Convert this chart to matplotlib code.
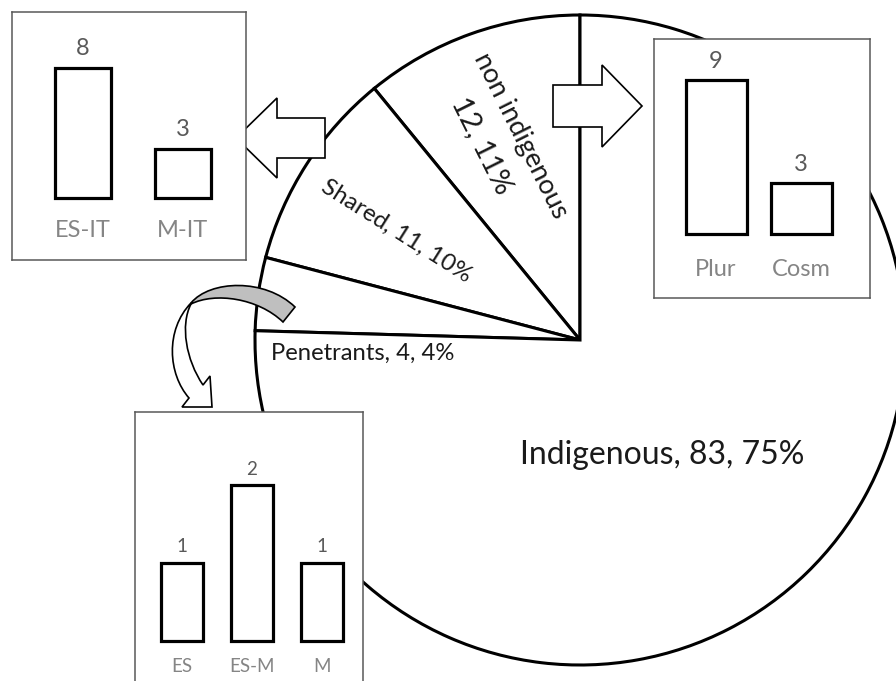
import matplotlib
matplotlib.use('Agg')
import matplotlib.pyplot as plt
from matplotlib.patches import Polygon, PathPatch
from matplotlib.path import Path

plt.rcParams['font.family'] = ['Lato', 'DejaVu Sans']

W, H = 896, 681

# main pie: species groups
groups = ['non indigenous', 'Shared', 'Penetrants', 'Indigenous']
counts = [12, 11, 4, 83]
shares = [11, 10, 4, 75]

# breakdown of the small groups
nonind_cats = ['Plur', 'Cosm']
nonind_vals = [9, 3]
shared_cats = ['ES-IT', 'M-IT']
shared_vals = [8, 3]
pen_cats = ['ES', 'ES-M', 'M']
pen_vals = [1, 2, 1]

fig = plt.figure(figsize=(W / 100, H / 100), dpi=100)
ax = fig.add_axes([0, 0, 1, 1])

# y axis is flipped (pixel-like coords), so start at -90 and go clockwise in data space
ax.pie(counts, startangle=-90, counterclock=False, radius=325, center=(580, 340),
       frame=True, wedgeprops=dict(facecolor='white', edgecolor='black', linewidth=2.2))
ax.set_xlim(0, W)
ax.set_ylim(H, 0)
ax.set_aspect('equal')
ax.axis('off')

txt = '#1a1a1a'
ax.text(521, 136, groups[0], rotation=-63.5, rotation_mode='anchor',
        ha='center', va='center', fontsize=19.5, color=txt)
ax.text(482, 146, f'{counts[0]}, {shares[0]}%', rotation=-63.5, rotation_mode='anchor',
        ha='center', va='center', fontsize=21, color=txt)
ax.text(396, 231, f'{groups[1]}, {counts[1]}, {shares[1]}%', rotation=-32.3,
        rotation_mode='anchor', ha='center', va='center', fontsize=17.5, color=txt)
ax.text(363, 353, f'{groups[2]}, {counts[2]}, {shares[2]}%',
        ha='center', va='center', fontsize=17.2, color=txt)
ax.text(662, 455, f'{groups[3]}, {counts[3]}, {shares[3]}%',
        ha='center', va='center', fontsize=23, color=txt)

# block arrows
left_arrow = [(236, 138), (277, 98), (277, 118), (325, 118), (325, 158),
              (277, 158), (277, 178)]
right_arrow = [(553, 85), (602, 85), (602, 65), (642, 106), (602, 147),
               (602, 127), (553, 127)]
for pts in (left_arrow, right_arrow):
    ax.add_patch(Polygon(pts, closed=True, facecolor='white', edgecolor='black',
                         linewidth=1.2, zorder=5))

# curved arrow from the penetrants slice
C4 = Path.CURVE4
grey = Path([(191, 303), (210, 280), (265, 278), (295, 307), (283, 322),
             (258, 298), (215, 292), (191, 304), (191, 303)],
            [Path.MOVETO, C4, C4, C4, Path.LINETO, C4, C4, C4, Path.CLOSEPOLY])
ax.add_patch(PathPatch(grey, facecolor='#bfbfbf', edgecolor='black', linewidth=1.2, zorder=5))
white = Path([(191, 303), (165, 330), (168, 374), (189, 398), (182, 407), (212, 407),
              (210, 376), (203, 385), (186, 360), (180, 325), (191, 304), (191, 303)],
             [Path.MOVETO, C4, C4, C4, Path.LINETO, Path.LINETO, Path.LINETO,
              Path.LINETO, C4, C4, C4, Path.CLOSEPOLY])
ax.add_patch(PathPatch(white, facecolor='white', edgecolor='black', linewidth=1.2, zorder=5))


def inset(box, cats, vals, centers, base, unit, bw, fs, lab_y, pad):
    x0, y0, x1, y1 = box
    a = fig.add_axes([x0 / W, 1 - y1 / H, (x1 - x0) / W, (y1 - y0) / H])
    step = (centers[-1] - centers[0]) / (len(cats) - 1)
    xmin = -(centers[0] - x0) / step
    a.set_xlim(xmin, xmin + (x1 - x0) / step)
    ymin = -(y1 - base) / unit
    a.set_ylim(ymin, ymin + (y1 - y0) / unit)
    bars = a.bar(range(len(cats)), vals, width=bw / step, color='white',
                 edgecolor='black', linewidth=2.3)
    a.bar_label(bars, padding=pad, fontsize=fs, color='#595959')
    for i, c in enumerate(cats):
        a.text(i, (base - lab_y) / unit, c, ha='center', va='center',
               fontsize=fs, color='#858585')
    a.set_xticks([])
    a.set_yticks([])
    for s in a.spines.values():
        s.set_color('#595959')
        s.set_linewidth(1.1)
    return a


inset((12, 12, 246, 260), shared_cats, shared_vals, [83, 182.5], 198, 16.25, 56, 17, 230, 6.5)
inset((654, 39, 870, 298), nonind_cats, nonind_vals, [716, 801], 234, 17.1, 61, 17, 270, 5.5)
inset((135, 412, 363, 700), pen_cats, pen_vals, [182, 322], 641, 77.9, 42, 13.5, 667, 5.5)

fig.savefig('out.png', dpi=100)
